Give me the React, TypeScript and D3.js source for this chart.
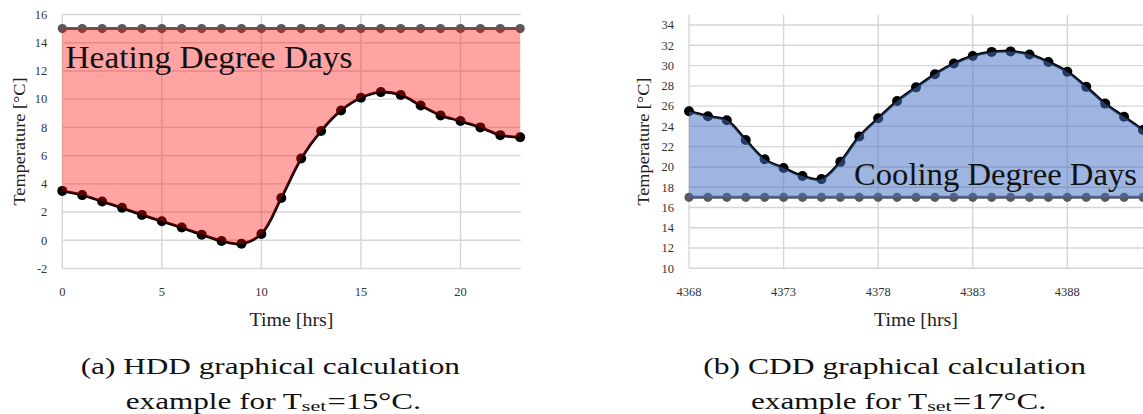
import React from "react";
import * as d3 from "d3";

// ---------- DATA ----------
const HDD_HOURS = [0, 1, 2, 3, 4, 5, 6, 7, 8, 9, 10, 11, 12, 13, 14, 15, 16, 17, 18, 19, 20, 21, 22, 23];
const HDD_TEMPS = [3.5, 3.2, 2.75, 2.3, 1.8, 1.35, 0.9, 0.4, -0.05, -0.25, 0.45, 3.0, 5.8, 7.75, 9.2, 10.1, 10.5, 10.3, 9.55, 8.85, 8.45, 8.0, 7.45, 7.3];
const HDD_SET = 15;
const HDD_XTICKS = [0, 5, 10, 15, 20];
const HDD_YTICKS = [-2, 0, 2, 4, 6, 8, 10, 12, 14, 16];

const CDD_HOURS = [4368, 4369, 4370, 4371, 4372, 4373, 4374, 4375, 4376, 4377, 4378, 4379, 4380, 4381, 4382, 4383, 4384, 4385, 4386, 4387, 4388, 4389, 4390, 4391, 4392];
const CDD_TEMPS = [25.5, 25.0, 24.6, 22.65, 20.75, 19.9, 19.1, 18.8, 20.5, 23.0, 24.8, 26.5, 27.85, 29.15, 30.2, 30.95, 31.35, 31.4, 31.1, 30.35, 29.4, 27.9, 26.25, 24.95, 23.65];
const CDD_SET = 17;
const CDD_XTICKS = [4368, 4373, 4378, 4383, 4388];
const CDD_YTICKS = [10, 12, 14, 16, 18, 20, 22, 24, 26, 28, 30, 32, 34];

const FONT = "'Liberation Serif', 'Times New Roman', serif";

type PanelProps = {
  hours: number[];
  temps: number[];
  setPoint: number;
  xTicks: number[];
  yTicks: number[];
  xDomain: [number, number];
  yDomain: [number, number];
  xRange: [number, number];
  yRange: [number, number];
  gridRight: number;
  fill: string;
  fillOpacity: number;
  label: string;
  labelX: number;
  labelY: number;
  labelSize: number;
  labelLen: number;
  yTitleX: number;
};

function Panel(p: PanelProps) {
  const x = d3.scaleLinear().domain(p.xDomain).range(p.xRange);
  const y = d3.scaleLinear().domain(p.yDomain).range(p.yRange);
  const x0 = p.xRange[0];
  const yTop = y(p.yDomain[1]);
  const yBot = y(p.yDomain[0]);
  const curve = d3.curveCatmullRom.alpha(0.5);
  const idx = p.hours.map((_, i) => i);
  const tempLine = d3
    .line<number>()
    .x((i) => x(p.hours[i]))
    .y((i) => y(p.temps[i]))
    .curve(curve)(idx) as string;
  const setLine = d3
    .line<number>()
    .x((i) => x(p.hours[i]))
    .y(() => y(p.setPoint))(idx) as string;
  const area = d3
    .area<number>()
    .x((i) => x(p.hours[i]))
    .y0(() => y(p.setPoint))
    .y1((i) => y(p.temps[i]))
    .curve(curve)(idx) as string;
  const grid = "#d6d6d6";
  const cx = (p.xRange[0] + p.gridRight) / 2;
  const cy = (yTop + yBot) / 2;
  return (
    <g>
      {p.yTicks.map((t) => (
        <line key={"h" + t} x1={x0} x2={p.gridRight} y1={y(t)} y2={y(t)} stroke={grid} strokeWidth={1.4} />
      ))}
      {p.xTicks.map((t) => (
        <line key={"v" + t} x1={x(t)} x2={x(t)} y1={yTop} y2={yBot} stroke={grid} strokeWidth={1.4} />
      ))}
      {p.yTicks.map((t) => (
        <text key={"yl" + t} x={x0 - 15} y={y(t) + 4.3} textAnchor="end" fontSize={12.5} fontFamily={FONT} fill="#333">
          {t}
        </text>
      ))}
      {p.xTicks.map((t) => (
        <text key={"xl" + t} x={x(t)} y={295.5} textAnchor="middle" fontSize={12.5} fontFamily={FONT} fill="#333">
          {t}
        </text>
      ))}
      <text x={cx} y={326} textAnchor="middle" fontSize={18.5} fontFamily={FONT} fill="#222" textLength={84} lengthAdjust="spacingAndGlyphs">
        Time [hrs]
      </text>
      <text
        transform={`translate(${p.yTitleX},${cy}) rotate(-90)`}
        textAnchor="middle"
        fontSize={16.5}
        fontFamily={FONT}
        fill="#222"
        textLength={128}
        lengthAdjust="spacingAndGlyphs"
      >
        Temperature [°C]
      </text>
      <path d={setLine} fill="none" stroke="#595959" strokeWidth={3} />
      {p.hours.map((h) => (
        <circle key={"s" + h} cx={x(h)} cy={y(p.setPoint)} r={4.6} fill="#595959" />
      ))}
      {p.hours.map((h, i) => (
        <circle key={"t" + h} cx={x(h)} cy={y(p.temps[i])} r={5} fill="#000" />
      ))}
      <path d={tempLine} fill="none" stroke="#000" strokeWidth={2.8} />
      <path d={area} fill={p.fill} fillOpacity={p.fillOpacity} stroke="none" />
      <text
        x={p.labelX}
        y={p.labelY}
        fontSize={p.labelSize}
        fontFamily={FONT}
        fill="#111"
        textLength={p.labelLen}
        lengthAdjust="spacingAndGlyphs"
      >
        {p.label}
      </text>
    </g>
  );
}

function Caption(props: { x1: number; w1: number; line1: string; x2: number; value: string }) {
  const em = 28.56;
  const w_ex = 6.169 * em;
  const w_set = 0.859 * em;
  const w_val = 3.28 * em;
  const s = { fontFamily: FONT, fill: "#111" };
  return (
    <g>
      <text x={props.x1} y={374} fontSize={23} textLength={props.w1} lengthAdjust="spacingAndGlyphs" {...s}>
        {props.line1}
      </text>
      <text x={props.x2} y={408.5} fontSize={23} textLength={w_ex} lengthAdjust="spacingAndGlyphs" {...s}>
        example for T
      </text>
      <text x={props.x2 + w_ex} y={411} fontSize={15} textLength={w_set} lengthAdjust="spacingAndGlyphs" {...s}>
        set
      </text>
      <text x={props.x2 + w_ex + w_set + 1} y={408.5} fontSize={23} textLength={w_val} lengthAdjust="spacingAndGlyphs" {...s}>
        {props.value}
      </text>
    </g>
  );
}

export default function App() {
  return (
    <svg width={1143} height={414} style={{ position: "absolute", left: 0, top: 0, background: "#fff" }}>
      <rect width={1143} height={414} fill="#fff" />
      <Panel
        hours={HDD_HOURS}
        temps={HDD_TEMPS}
        setPoint={HDD_SET}
        xTicks={HDD_XTICKS}
        yTicks={HDD_YTICKS}
        xDomain={[0, 23]}
        yDomain={[-2, 16]}
        xRange={[62.3, 520.2]}
        yRange={[268.5, 14.5]}
        gridRight={520.7}
        fill="#ff0000"
        fillOpacity={0.36}
        label="Heating Degree Days"
        labelX={65.5}
        labelY={68}
        labelSize={32}
        labelLen={287}
        yTitleX={24.5}
      />
      <Panel
        hours={CDD_HOURS}
        temps={CDD_TEMPS}
        setPoint={CDD_SET}
        xTicks={CDD_XTICKS}
        yTicks={CDD_YTICKS}
        xDomain={[4368, 4392]}
        yDomain={[10, 35]}
        xRange={[689, 1143]}
        yRange={[268.3, 14.9]}
        gridRight={1143}
        fill="#4472c4"
        fillOpacity={0.52}
        label="Cooling Degree Days"
        labelX={854}
        labelY={185}
        labelSize={31}
        labelLen={283}
        yTitleX={649}
      />
      <Caption x1={80.7} w1={379.3} line1="(a) HDD graphical calculation" x2={125.7} value="=15°C." />
      <Caption x1={703.3} w1={382.7} line1="(b) CDD graphical calculation" x2={751} value="=17°C." />
    </svg>
  );
}
